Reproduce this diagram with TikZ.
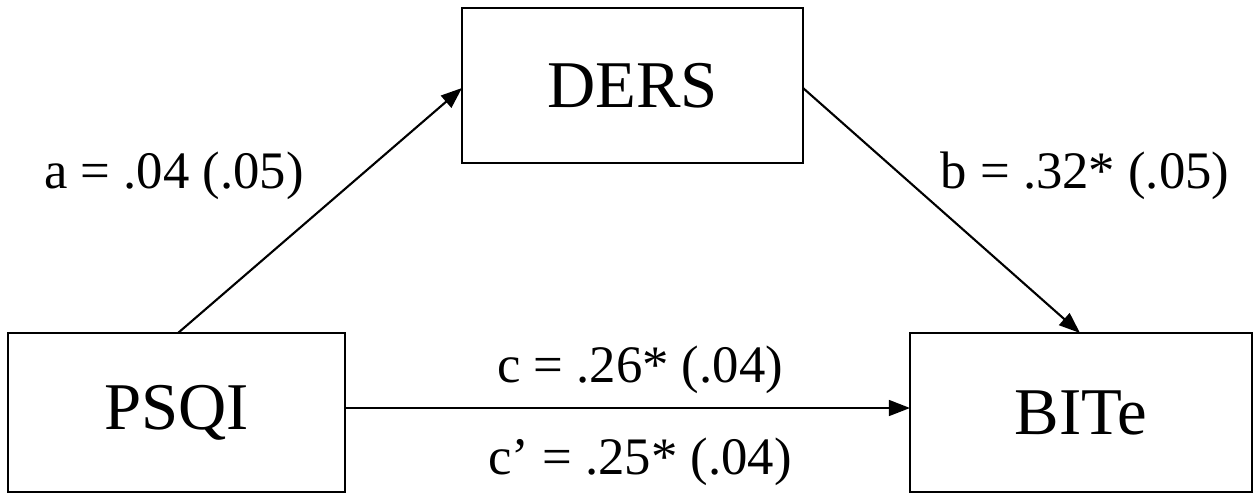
\documentclass[tikz,border=0pt]{standalone}
\usepackage{fontspec}
\setmainfont{Liberation Serif}
\usetikzlibrary{arrows.meta}
\begin{document}
\begin{tikzpicture}[x=0.02cm,y=-0.02cm,
  box/.style={draw,line width=1.2pt,inner sep=0pt},
  big/.style={font=\fontsize{38}{44}\selectfont},
  lab/.style={font=\fontsize{30}{36}\selectfont},
  arr/.style={line width=1.2pt,-{Triangle[length=12pt,width=9pt]}}]
\useasboundingbox (0,0) rectangle (1260,501);
\node[box,minimum width=341*0.02cm,minimum height=155*0.02cm] (ders) at (632.5,85.5) {};
\node[big] at (ders) {DERS};
\node[box,minimum width=337*0.02cm,minimum height=159*0.02cm] (psqi) at (176.5,412.5) {};
\node[big] at (psqi) {PSQI};
\node[box,minimum width=342*0.02cm,minimum height=159*0.02cm] (bite) at (1081,412.5) {};
\node[big] at (bite) {BITe};
\coordinate (p1) at (178,333);
\coordinate (d1) at (462,88);
\coordinate (d2) at (803,88);
\coordinate (b1) at (1080,333);
\coordinate (p2) at (345,408);
\coordinate (b2) at (910,408);
\draw[arr] (p1) -- (d1);
\draw[arr] (d2) -- (b1);
\draw[arr] (p2) -- (b2);
\node[lab] (la) at (174,176) {a = .04 (.05)};
\node[lab] (lb) at (1085,176) {b = .32* (.05)};
\node[lab] (lc) at (640,370) {c = .26* (.04)};
\node[lab] (lc2) at (640,462) {c’ = .25* (.04)};
\end{tikzpicture}
\end{document}
